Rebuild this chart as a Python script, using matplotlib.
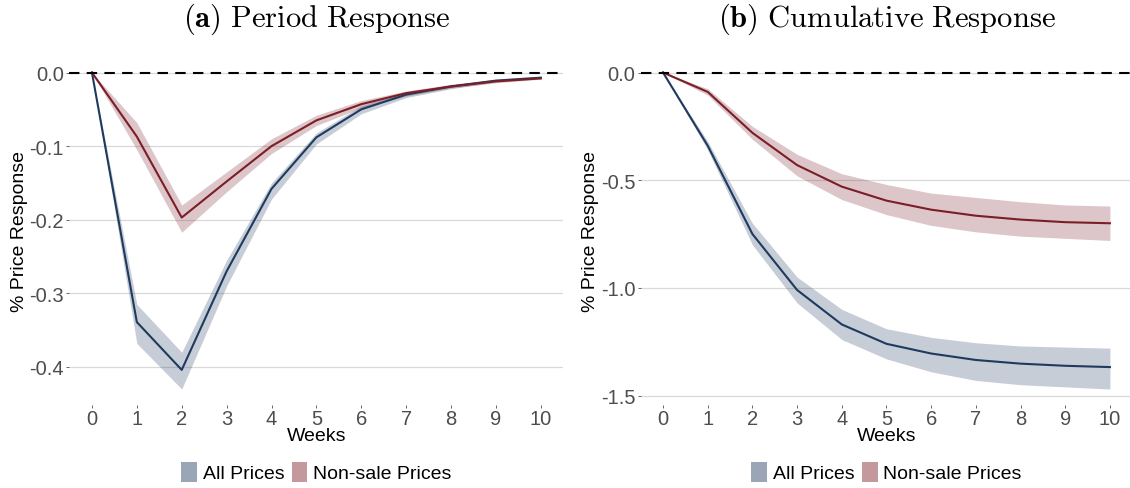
import numpy as np
import matplotlib
matplotlib.use('Agg')
import matplotlib.pyplot as plt
from matplotlib.patches import Patch

plt.rcParams['font.family'] = ['Liberation Sans', 'DejaVu Sans']
plt.rcParams['mathtext.fontset'] = 'cm'

weeks = np.arange(11)

# (a) period response
per_all = [0, -0.339, -0.404, -0.270, -0.158, -0.088, -0.050, -0.030, -0.019, -0.011, -0.007]
per_all_lo = [0, -0.368, -0.430, -0.290, -0.172, -0.097, -0.056, -0.034, -0.022, -0.013, -0.008]
per_all_hi = [0, -0.315, -0.380, -0.255, -0.150, -0.082, -0.045, -0.027, -0.016, -0.009, -0.005]
per_ns = [0, -0.087, -0.197, -0.148, -0.100, -0.065, -0.043, -0.028, -0.019, -0.012, -0.008]
per_ns_lo = [0, -0.105, -0.217, -0.162, -0.110, -0.072, -0.048, -0.032, -0.021, -0.014, -0.009]
per_ns_hi = [0, -0.068, -0.180, -0.135, -0.090, -0.058, -0.038, -0.025, -0.016, -0.010, -0.006]

# (b) cumulative response
cum_all = [0, -0.340, -0.750, -1.010, -1.170, -1.260, -1.305, -1.335, -1.352, -1.362, -1.368]
cum_all_lo = [0, -0.360, -0.800, -1.070, -1.240, -1.330, -1.390, -1.430, -1.450, -1.460, -1.470]
cum_all_hi = [0, -0.320, -0.700, -0.950, -1.100, -1.190, -1.230, -1.255, -1.270, -1.275, -1.280]
cum_ns = [0, -0.090, -0.280, -0.430, -0.530, -0.595, -0.637, -0.665, -0.683, -0.695, -0.700]
cum_ns_lo = [0, -0.105, -0.310, -0.480, -0.590, -0.660, -0.710, -0.740, -0.760, -0.770, -0.780]
cum_ns_hi = [0, -0.075, -0.250, -0.380, -0.470, -0.520, -0.560, -0.580, -0.600, -0.615, -0.620]

navy = '#1f3a5f'
red = '#7b1e28'
grey = '#4d4d4d'

fig = plt.figure(figsize=(11.3, 4.89), dpi=100)
ax1 = fig.add_axes([0.0615, 0.17, 0.437, 0.712])
ax2 = fig.add_axes([0.567, 0.17, 0.435, 0.712])

panels = [
    (ax1, r'$\mathbf{(a)}\ \mathrm{Period\ Response}$', per_all, per_all_lo, per_all_hi,
     per_ns, per_ns_lo, per_ns_hi, [0.0, -0.1, -0.2, -0.3, -0.4]),
    (ax2, r'$\mathbf{(b)}\ \mathrm{Cumulative\ Response}$', cum_all, cum_all_lo, cum_all_hi,
     cum_ns, cum_ns_lo, cum_ns_hi, [0.0, -0.5, -1.0, -1.5]),
]

for ax, title, a, alo, ahi, n, nlo, nhi, yt in panels:
    ax.fill_between(weeks, alo, ahi, color=navy, alpha=0.25, lw=0)
    ax.fill_between(weeks, nlo, nhi, color=red, alpha=0.25, lw=0)
    ax.plot(weeks, a, color=navy, lw=1.5)
    ax.plot(weeks, n, color=red, lw=1.5)
    ax.axhline(0, color='black', lw=1.5, ls=(0, (5, 3.5)), zorder=5)
    ax.margins(x=0.05, y=0.05)
    ax.set_xticks(weeks)
    ax.set_yticks(yt)
    ax.set_yticklabels(['%.1f' % v for v in yt])
    ax.grid(axis='y', color='#d9d9d9', lw=0.9)
    ax.set_axisbelow(True)
    for s in ax.spines.values():
        s.set_visible(False)
    ax.tick_params(colors=grey, labelsize=14.5, length=2, width=0.6, pad=2)
    ax.tick_params(axis='x', pad=1)
    ax.set_xlabel('Weeks', fontsize=14, labelpad=-1)
    ax.set_ylabel('% Price Response', fontsize=14, labelpad=1)
    ax.set_title(title, fontsize=22, pad=22)
    handles = [Patch(color=navy, alpha=0.45, lw=0), Patch(color=red, alpha=0.45, lw=0)]
    ax.legend(handles, ['All Prices', 'Non-sale Prices'], loc='center',
              bbox_to_anchor=(0.5, -0.193), ncol=2, frameon=False, fontsize=14,
              handlelength=0.8, handleheight=1.2, handletextpad=0.3, columnspacing=0.4)

fig.savefig('out.png', dpi=100)
